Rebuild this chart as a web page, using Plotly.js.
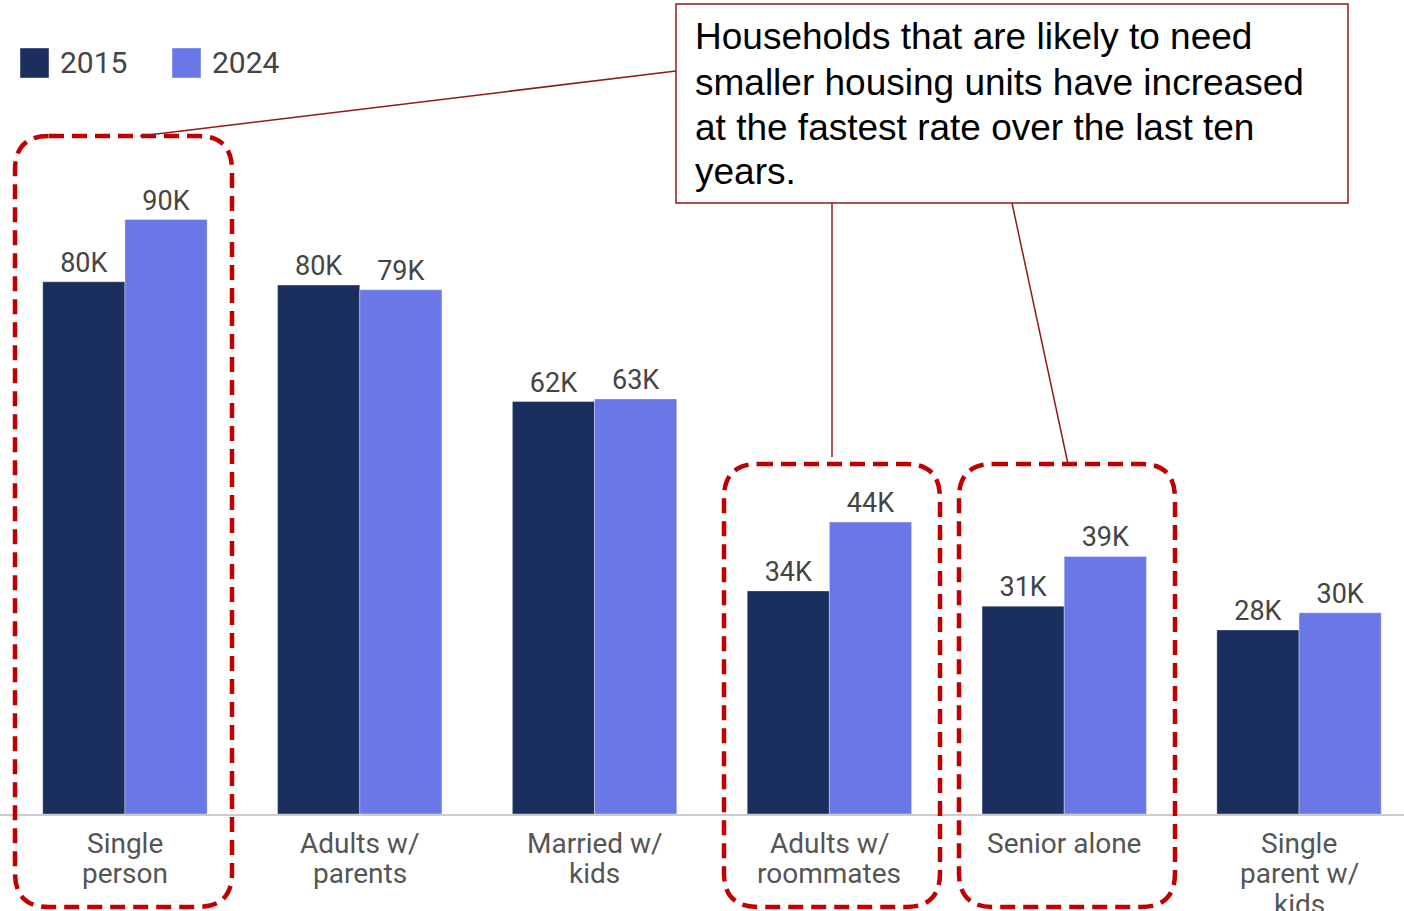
<!DOCTYPE html>
<html>
<head>
<meta charset="utf-8">
<script src="https://cdn.plot.ly/plotly-3.0.1.min.js"></script>
<style>
  html, body { margin: 0; padding: 0; background: #ffffff; }
  #chart { width: 1404px; height: 911px; }
</style>
</head>
<body>
<div id="chart"></div>
<script>
// ---- data ----
const categories = [
  "Single<br>person",
  "Adults w/<br>parents",
  "Married w/<br>kids",
  "Adults w/<br>roommates",
  "Senior alone",
  "Single<br>parent w/<br>kids"
];
const seriesNames = ["2015", "2024"];
const values2015 = [80.4, 79.9, 62.3, 33.7, 31.4, 27.8];   // thousands of households
const values2024 = [89.8, 79.2, 62.7, 44.1, 38.9, 30.4];
const calloutLines = [
  "Households that are likely to need",
  "smaller housing units have increased",
  "at the fastest rate over the last ten",
  "years."
];
const highlighted = [0, 3, 4]; // categories that are circled

// ---- style ----
const W = 1404, H = 911;
const M = { l: 0, r: 0, t: 0, b: 97 };
const plotH = H - M.t - M.b;
const colors = ["#1b2f5e", "#6a77e6"];
const red = "#c00000";
const darkRed = "#8e1b1b";

// pixel -> paper helpers
const px = x => (x - M.l) / (W - M.l - M.r);
const py = y => (H - M.b - y) / plotH;

function roundRectPath(x0, y0, x1, y1, r) {
  const p = (x, y) => px(x).toFixed(5) + "," + py(y).toFixed(5);
  return "M" + p(x0 + r, y0) +
    " L" + p(x1 - r, y0) +
    " Q" + p(x1, y0) + " " + p(x1, y0 + r) +
    " L" + p(x1, y1 - r) +
    " Q" + p(x1, y1) + " " + p(x1 - r, y1) +
    " L" + p(x0 + r, y1) +
    " Q" + p(x0, y1) + " " + p(x0, y1 - r) +
    " L" + p(x0, y0 + r) +
    " Q" + p(x0, y0) + " " + p(x0 + r, y0) + " Z";
}

const traces = [values2015, values2024].map((vals, i) => ({
  type: "bar",
  name: seriesNames[i],
  x: categories,
  y: vals,
  marker: { color: colors[i], line: { color: "rgba(255,255,255,0.35)", width: 1 } },
  texttemplate: "%{y:.0f}K",
  textposition: "outside",
  cliponaxis: false,
  textfont: { family: "Roboto, sans-serif", size: 27, color: "#444444" },
  showlegend: false,
  hoverinfo: "skip"
}));

// dashed highlight boxes (pixel geometry)
const boxGeom = {
  0: [15, 136, 232, 907],
  3: [724, 464, 940, 907],
  4: [959, 464, 1175, 907]
};
const shapes = [];
highlighted.forEach(ci => {
  const g = boxGeom[ci];
  shapes.push({
    type: "path", xref: "paper", yref: "paper",
    path: roundRectPath(g[0], g[1], g[2], g[3], 34),
    line: { color: red, width: 4.5, dash: "15px,8px" },
    fillcolor: "rgba(0,0,0,0)"
  });
});
// callout box
shapes.push({
  type: "rect", xref: "paper", yref: "paper",
  x0: px(676), x1: px(1348), y0: py(4), y1: py(203),
  line: { color: darkRed, width: 1.5 }, fillcolor: "rgba(0,0,0,0)"
});
// connectors
[[676, 71, 140, 136], [832, 203, 832, 457], [1012, 203, 1068, 464]].forEach(c => {
  shapes.push({
    type: "line", xref: "paper", yref: "paper",
    x0: px(c[0]), y0: py(c[1]), x1: px(c[2]), y1: py(c[3]),
    line: { color: darkRed, width: 1.5 }
  });
});
// custom legend squares
const legendX = [20, 172];
legendX.forEach((lx, i) => {
  shapes.push({
    type: "rect", xref: "paper", yref: "paper",
    x0: px(lx), x1: px(lx + 29), y0: py(48), y1: py(78),
    line: { color: "rgba(255,255,255,0.4)", width: 1 }, fillcolor: colors[i]
  });
});

const annotations = [];
calloutLines.forEach((ln, i) => {
  annotations.push({
    xref: "paper", yref: "paper",
    x: px(693), y: py(37 + 45 * i), xanchor: "left", yanchor: "middle",
    text: ln, showarrow: false,
    font: { family: "Liberation Sans, Arial, sans-serif", size: 37, color: "#000000" }
  });
});
seriesNames.forEach((n, i) => {
  annotations.push({
    xref: "paper", yref: "paper",
    x: px(legendX[i] + 38), y: py(63), xanchor: "left", yanchor: "middle",
    text: n, showarrow: false,
    font: { family: "Roboto, sans-serif", size: 30, color: "#444444" }
  });
});
// category labels (one annotation per line, placed on the category axis)
categories.forEach(cat => {
  cat.split("<br>").forEach((ln, j) => {
    annotations.push({
      xref: "x", yref: "paper",
      x: cat, y: py(843 + 30.5 * j), xanchor: "center", yanchor: "middle",
      text: ln, showarrow: false,
      font: { family: "Roboto, sans-serif", size: 28, color: "#555555" }
    });
  });
});

const layout = {
  width: W, height: H,
  margin: M,
  paper_bgcolor: "#ffffff",
  plot_bgcolor: "#ffffff",
  barmode: "group",
  bargap: 0.3,
  bargroupgap: 0,
  xaxis: {
    type: "category",
    range: [-0.532, 5.447],
    showline: true, linecolor: "#cccccc", linewidth: 2,
    showgrid: false, zeroline: false,
    ticks: "", showticklabels: false,
    fixedrange: true
  },
  yaxis: {
    range: [0, plotH / 6.62],
    visible: false, showgrid: false, zeroline: false,
    fixedrange: true
  },
  shapes: shapes,
  annotations: annotations,
  showlegend: false
};

Plotly.newPlot("chart", traces, layout, { displayModeBar: false, staticPlot: true });
</script>
</body>
</html>
